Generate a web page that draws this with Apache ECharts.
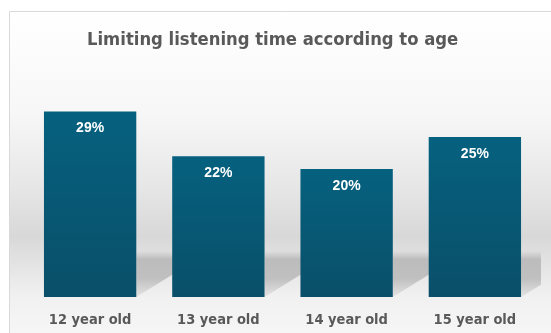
<!DOCTYPE html>
<html><head><meta charset="utf-8">
<script src="https://cdn.jsdelivr.net/npm/echarts@6/dist/echarts.min.js"></script>
<style>html,body{margin:0;padding:0;background:#fff}#c{width:551px;height:333px}</style>
</head><body><div id="c"></div>
<script>
const titleText = 'Limiting listening time according to age';
const categories = ['12 year old', '13 year old', '14 year old', '15 year old'];
const values = [29, 22, 20, 25];

const chart = echarts.init(document.getElementById('c'), null, {renderer: 'canvas'});
const W = 551, H = 333;
const narrow = '"DejaVu Sans Condensed", "Liberation Sans Narrow", Roboto, sans-serif';

const option = {
  animation: false,
  backgroundColor: '#ffffff',
  title: {
    text: titleText, left: 82, top: 26,
    textStyle: {fontFamily: narrow, fontSize: 18.3, fontWeight: 'bold', color: '#595959'}
  },
  graphic: [{
    type: 'rect', z: -10, silent: true,
    shape: {x: 9.5, y: 11.5, width: 600, height: 340},
    style: {
      stroke: '#d9d9d9', lineWidth: 1,
      fill: {type: 'linear', x: 0, y: 0, x2: 0, y2: 1, colorStops: [
        {offset: 0, color: '#ffffff'},
        {offset: 0.3, color: '#f7f7f7'},
        {offset: 0.52, color: '#e6e6e6'},
        {offset: 0.66, color: '#d8d8d8'},
        {offset: 0.84, color: '#f1f1f1'},
        {offset: 1, color: '#f8f8f8'}
      ]}
    }
  }],
  grid: {left: 26, right: 12, top: 73, bottom: 36, outerBoundsMode: 'none', containLabel: false},
  xAxis: {
    type: 'category', data: categories,
    axisLine: {show: false}, axisTick: {show: false},
    axisLabel: {margin: 16, fontFamily: narrow, fontSize: 14.5, fontWeight: 'bold', color: '#595959'}
  },
  yAxis: {type: 'value', min: 0, max: 35, show: false, splitLine: {show: false}},
  series: [
    {
      type: 'custom', z: 1, silent: true,
      data: values.map((v, i) => [i, v]),
      renderItem: function (params, api) {
        const c = api.coord([api.value(0), 0]);
        const bw = api.size([1, 0])[0] * 0.72;
        const R = c[0] + bw / 2;
        const yb = c[1];
        const top = yb - 46;
        const xr = Math.min(R + 44, W - 10);
        const w = xr - R;
        return {
          type: 'polygon',
          shape: {points: [[R, top], [xr, top], [xr, yb - w * 0.62], [R, yb]]},
          style: {
            fill: {type: 'linear', x: 0, y: 0, x2: 0, y2: 1, colorStops: [
              {offset: 0, color: 'rgba(188,188,188,0)'},
              {offset: 0.18, color: 'rgba(188,188,188,1)'},
              {offset: 0.6, color: 'rgba(192,192,192,1)'},
              {offset: 1, color: 'rgba(225,225,225,0.9)'}
            ]}
          }
        };
      }
    },
    {
      type: 'bar', z: 3, data: values, barCategoryGap: '28%',
      itemStyle: {
        color: {type: 'linear', x: 0, y: 0, x2: 0, y2: 1, colorStops: [
          {offset: 0, color: '#05617f'},
          {offset: 1, color: '#0a4f69'}
        ]}
      },
      label: {
        show: true, position: 'insideTop', distance: 10,
        formatter: p => p.value + '%',
        fontFamily: '"Liberation Sans", Arial, sans-serif', fontSize: 14, fontWeight: 'bold', color: '#ffffff'
      }
    }
  ]
};
chart.setOption(option);
</script></body></html>
